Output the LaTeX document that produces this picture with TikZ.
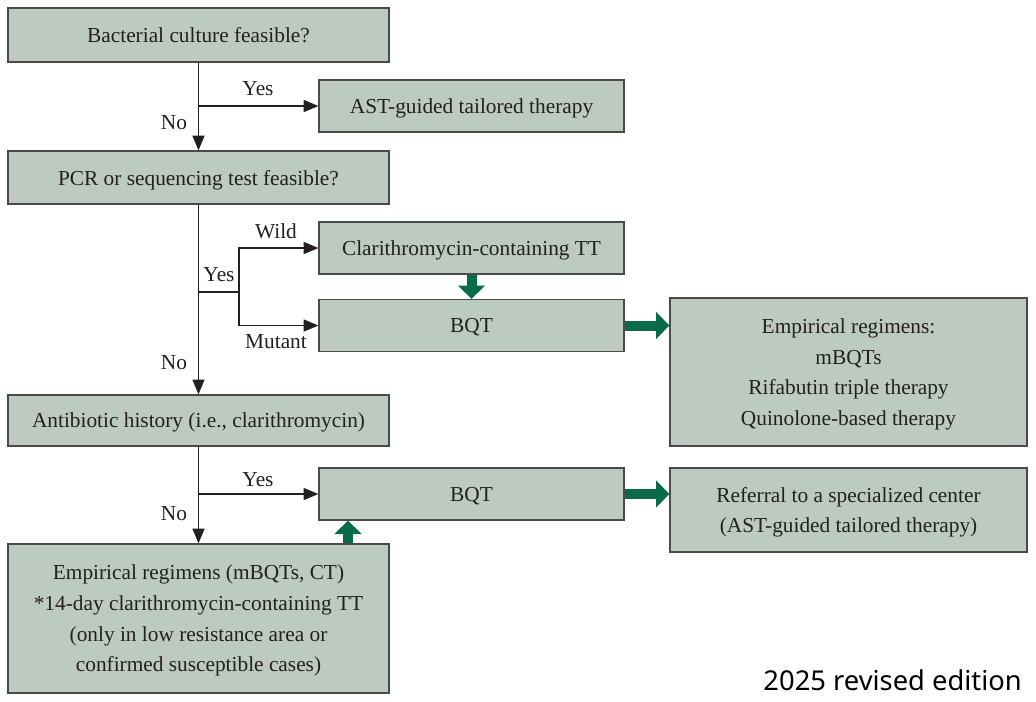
\documentclass[tikz,border=0pt]{standalone}
\usepackage{fontspec}
\setmainfont{Liberation Serif}
\newfontfamily\notefont{Noto Sans}
\usetikzlibrary{arrows.meta}

\definecolor{boxfill}{HTML}{BDCABF}
\definecolor{boxline}{HTML}{4A4A4A}
\definecolor{fatgreen}{HTML}{0A6B4B}
\definecolor{ink}{HTML}{231F20}

\tikzset{
  stepbox/.style={draw=boxline, fill=boxfill, line width=1pt, text=ink,
    align=center, inner sep=0pt, text depth=0pt, font=\fontsize{16}{23}\selectfont},
  leftbox/.style={stepbox, minimum width=285.75pt},
  midbox/.style={stepbox, minimum width=228.75pt, minimum height=39pt},
  rightbox/.style={stepbox, minimum width=267.75pt},
  lbl/.style={text=ink, inner sep=1pt, font=\fontsize{16}{20}\selectfont},
  flow/.style={draw=ink, line width=0.9pt, -{Triangle[length=11pt,width=9pt]}},
  fat/.style={draw=fatgreen, line width=7.5pt, -{Triangle[length=10pt,width=20pt]}},
}

\begin{document}
\begin{tikzpicture}[x=0.75pt,y=-0.75pt]
    \useasboundingbox (0,0) rectangle (1036,701);

    % left column
    \node[leftbox, minimum height=40.5pt]  (culture) at (198.5,35)    {Bacterial culture feasible?};
    \node[leftbox, minimum height=39.75pt] (pcr)     at (198.5,177.5) {PCR or sequencing test feasible?};
    \node[leftbox, minimum height=38.25pt] (history) at (198.5,420.5) {Antibiotic history (i.e., clarithromycin)};
    \node[leftbox, minimum height=111.75pt] (empleft) at (198.5,618.5)
        {Empirical regimens (mBQTs, CT)\\*14-day clarithromycin-containing TT\\(only in low resistance area or\\confirmed susceptible cases)};

    % middle column
    \node[midbox] (ast)    at (471.5,106)   {AST-guided tailored therapy};
    \node[midbox] (clari)  at (471.5,248)   {Clarithromycin-containing TT};
    \node[midbox] (bqtone) at (471.5,325.5) {BQT};
    \node[midbox] (bqttwo) at (471.5,494)   {BQT};

    % right column
    \node[rightbox, minimum height=111pt] (empright) at (848.5,372)
        {Empirical regimens:\\mBQTs\\Rifabutin triple therapy\\Quinolone-based therapy};
    \node[rightbox, minimum height=63pt]  (referral) at (848.5,510)
        {Referral to a specialized center\\(AST-guided tailored therapy)};

    % branch points
    \coordinate (ja) at (culture.south |- ast.west);
    \coordinate (jb) at (198.5,292);
    \coordinate (kb) at (239,292);
    \coordinate (jc) at (history.south |- bqttwo.west);

    % decisions
    \draw[flow] (culture.south) -- (pcr.north);
    \draw[flow] (ja) -- (ast.west);
    \draw[flow] (pcr.south) -- (history.north);
    \draw[draw=ink, line width=0.9pt] (jb) -- (kb);
    \draw[flow] (kb) |- (clari.west);
    \draw[flow] (kb) |- (bqtone.west);
    \draw[flow] (history.south) -- (empleft.north);
    \draw[flow] (jc) -- (bqttwo.west);

    % green arrows
    \draw[fat] (clari.south) -- (bqtone.north);
    \draw[fat] (bqtone.east) -- (empright.west |- bqtone.east);
    \draw[fat] (empleft.north -| 348,0) -- (bqttwo.south -| 348,0);
    \draw[fat] (bqttwo.east) -- (referral.west |- bqttwo.east);

    % labels
    \node[lbl] (yesa)   at (258,89)  {Yes};
    \node[lbl] (noa)    at (174,123) {No};
    \node[lbl] (wild)   at (276,231) {Wild};
    \node[lbl] (yesb)   at (219,275) {Yes};
    \node[lbl] (mutant) at (276,342) {Mutant};
    \node[lbl] (nob)    at (174,363) {No};
    \node[lbl] (yesc)   at (258,480) {Yes};
    \node[lbl] (noc)    at (174,514) {No};

    \node[anchor=east, inner sep=0pt, font=\notefont\fontsize{20.5}{24}\selectfont] (edition) at (1022,680) {2025 revised edition};
\end{tikzpicture}
\end{document}
